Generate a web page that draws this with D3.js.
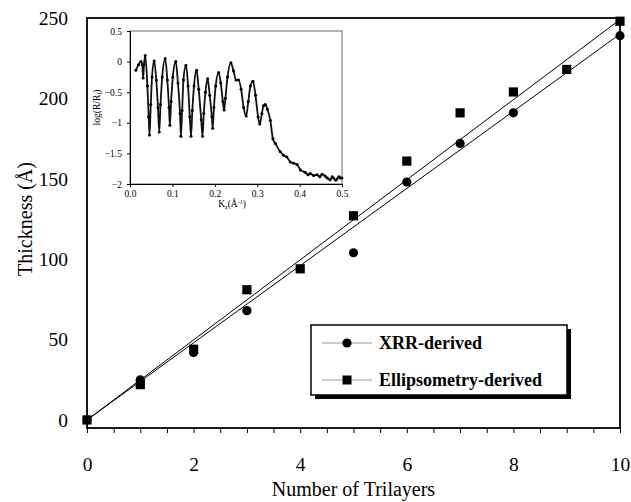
<!DOCTYPE html>
<html>
<head>
<meta charset="utf-8">
<script src="https://cdn.jsdelivr.net/npm/d3@7"></script>
<style>
  body { margin: 0; background: #fff; }
  svg { display: block; font-family: "Liberation Serif", "Times New Roman", serif; }
</style>
</head>
<body>
<svg id="chart" width="631" height="502"></svg>
<script>
// main chart data: thickness vs number of trilayers
const xrrLayers = [0, 1, 2, 3, 5, 6, 7, 8, 10];
const xrrThickness = [0, 25, 42, 68, 104, 148, 172, 191, 239];
const ellLayers = [0, 1, 2, 3, 4, 5, 6, 7, 8, 9, 10];
const ellThickness = [0, 22, 44, 81, 94, 127, 161, 191, 204, 218, 248];

// fitted lines (start, end)
const xrrFit = [[0, 0], [10, 240]];
const ellFit = [[0, 0], [10, 249]];

const xTickLabels = [0, 2, 4, 6, 8, 10];
const yTickLabels = [0, 50, 100, 150, 200, 250];

// inset: reflectivity curve, log(R/Rf) vs Kz
const insetKz = [0.014, 0.020, 0.026, 0.029, 0.031, 0.033, 0.036, 0.041, 0.044, 0.046, 0.049, 0.052,
  0.057, 0.062, 0.066, 0.069, 0.072, 0.076, 0.083, 0.088, 0.092, 0.094, 0.097, 0.101,
  0.108, 0.113, 0.118, 0.120, 0.123, 0.126, 0.132, 0.137, 0.141, 0.144, 0.147, 0.151,
  0.157, 0.162, 0.168, 0.171, 0.174, 0.178, 0.183, 0.188, 0.193, 0.195, 0.198, 0.202,
  0.209, 0.214, 0.219, 0.222, 0.225, 0.230, 0.238, 0.244, 0.250, 0.256, 0.262, 0.268,
  0.274, 0.279, 0.284, 0.290, 0.296, 0.302, 0.306, 0.311, 0.315, 0.319, 0.324, 0.331,
  0.337, 0.343, 0.354, 0.362, 0.370, 0.378, 0.386, 0.394, 0.402, 0.413, 0.420, 0.425,
  0.433, 0.441, 0.448, 0.453, 0.460, 0.465, 0.472, 0.477, 0.480, 0.485, 0.488, 0.493,
  0.496, 0.500];
const insetLogR = [-0.14, -0.05, 0.0, -0.05, -0.27, -0.05, 0.1, -0.4, -0.9, -1.2, -0.7, -0.25,
  0.01, -0.3, -0.75, -1.15, -0.7, -0.25, 0.05, -0.3, -0.75, -1.04, -0.65, -0.25,
  0.0, -0.35, -0.85, -1.22, -0.8, -0.3, -0.06, -0.4, -0.9, -1.22, -0.8, -0.4,
  -0.14, -0.45, -0.95, -1.22, -0.85, -0.5, -0.28, -0.55, -0.9, -1.09, -0.75, -0.4,
  -0.18, -0.35, -0.65, -0.79, -0.6, -0.25, -0.02, -0.15, -0.3, -0.3, -0.45, -0.75,
  -0.89, -0.65, -0.4, -0.32, -0.55, -0.9, -1.02, -0.85, -0.72, -0.7, -0.78, -0.96,
  -1.26, -1.34, -1.47, -1.53, -1.56, -1.64, -1.66, -1.68, -1.77, -1.81, -1.85, -1.83,
  -1.86, -1.85, -1.88, -1.84, -1.87, -1.9, -1.93, -1.88, -1.9, -1.94, -1.92, -1.88,
  -1.9, -1.9];
const insetXTicks = [0, 0.1, 0.2, 0.3, 0.4, 0.5];
const insetYTicks = [0.5, 0, -0.5, -1, -1.5, -2];

const svg = d3.select('#chart');

// ---- main plot ----
const x = d3.scaleLinear().domain([0, 10]).range([87, 620]);
const y = d3.scaleLinear().domain([-5, 250]).range([428, 18]);

svg.append('defs').append('clipPath').attr('id', 'plotclip')
  .append('rect')
    .attr('x', x(0)).attr('y', y(250))
    .attr('width', x(10) - x(0)).attr('height', y(-5) - y(250));

// minor ticks below the x axis every 0.5
svg.append('g')
  .attr('transform', `translate(0,${y(-5)})`)
  .call(d3.axisBottom(x).tickValues(d3.range(0, 10.01, 0.5)).tickSize(5).tickFormat(''))
  .call(g => g.select('.domain').remove())
  .call(g => g.selectAll('line').attr('stroke', '#000').attr('stroke-width', 1));

// x tick labels
svg.append('g')
  .attr('transform', `translate(0,${y(-5)})`)
  .call(d3.axisBottom(x).tickValues(xTickLabels).tickSize(0).tickPadding(29).tickFormat(d3.format('d')))
  .call(g => g.select('.domain').remove())
  .call(g => g.selectAll('text').attr('font-size', 19.5).attr('font-family', 'Liberation Serif').attr('fill', '#000'));

// y tick labels (no tick marks)
svg.append('g')
  .attr('transform', `translate(${x(0)},0)`)
  .call(d3.axisLeft(y).tickValues(yTickLabels).tickSize(0).tickPadding(19).tickFormat(d3.format('d')))
  .call(g => g.select('.domain').remove())
  .call(g => g.selectAll('text').attr('font-size', 19.5).attr('font-family', 'Liberation Serif').attr('fill', '#000'));

// axis titles
svg.append('text')
  .attr('x', (x(0) + x(10)) / 2).attr('y', 496)
  .attr('text-anchor', 'middle').attr('font-size', 20)
  .text('Number of Trilayers');

svg.append('text')
  .attr('transform', `translate(32,${y(125)}) rotate(-90)`)
  .attr('text-anchor', 'middle').attr('font-size', 20)
  .text('Thickness (Å)');

// fit lines
const line = d3.line().x(d => x(d[0])).y(d => y(d[1]));
const fits = svg.append('g').attr('clip-path', 'url(#plotclip)');
[xrrFit, ellFit].forEach(f => {
  fits.append('path').datum(f)
    .attr('d', line).attr('fill', 'none')
    .attr('stroke', '#000').attr('stroke-width', 1);
});

// data markers
const xrr = xrrLayers.map((n, i) => ({ n, t: xrrThickness[i] }));
const ell = ellLayers.map((n, i) => ({ n, t: ellThickness[i] }));

svg.append('g').selectAll('circle')
  .data(xrr).join('circle')
    .attr('cx', d => x(d.n)).attr('cy', d => y(d.t))
    .attr('r', 4.6).attr('fill', '#000');

svg.append('g').selectAll('rect')
  .data(ell).join('rect')
    .attr('x', d => x(d.n) - 4.6).attr('y', d => y(d.t) - 4.6)
    .attr('width', 9.2).attr('height', 9.2).attr('fill', '#000');

// frame
svg.append('rect')
  .attr('x', x(0)).attr('y', y(250))
  .attr('width', x(10) - x(0)).attr('height', y(-5) - y(250))
  .attr('fill', 'none').attr('stroke', '#000').attr('stroke-width', 1.8);

// ---- legend ----
const legend = svg.append('g').attr('transform', 'translate(311,325)');
legend.append('rect')
  .attr('x', 4).attr('y', 4).attr('width', 256).attr('height', 70)
  .attr('fill', '#000');
legend.append('rect')
  .attr('width', 256).attr('height', 70)
  .attr('fill', '#fff').attr('stroke', '#000').attr('stroke-width', 1.5);

const entries = [
  { label: 'XRR-derived', shape: 'circle' },
  { label: 'Ellipsometry-derived', shape: 'square' }
];
entries.forEach((e, i) => {
  const row = legend.append('g').attr('transform', `translate(0,${18 + i * 37})`);
  row.append('line')
    .attr('x1', 11).attr('x2', 61)
    .attr('stroke', '#999').attr('stroke-width', 1);
  if (e.shape === 'circle') {
    row.append('circle').attr('cx', 36).attr('r', 4.6).attr('fill', '#000');
  } else {
    row.append('rect').attr('x', 31.5).attr('y', -4.5)
      .attr('width', 9).attr('height', 9).attr('fill', '#000');
  }
  row.append('text')
    .attr('x', 68).attr('dy', '0.35em')
    .attr('font-size', 18).attr('font-weight', 'bold')
    .text(e.label);
});

// ---- inset ----
const ix = d3.scaleLinear().domain([0, 0.5]).range([130, 342]);
const iy = d3.scaleLinear().domain([-2, 0.5]).range([184, 31]);

const inset = svg.append('g');
inset.append('rect')
  .attr('x', ix(0)).attr('y', iy(0.5))
  .attr('width', ix(0.5) - ix(0)).attr('height', iy(-2) - iy(0.5))
  .attr('fill', '#fff').attr('stroke', '#666').attr('stroke-width', 1);

inset.append('g')
  .attr('transform', `translate(0,${iy(-2)})`)
  .call(d3.axisBottom(ix).tickValues(insetXTicks).tickSize(3).tickPadding(3).tickFormat(d3.format('.1f')))
  .call(g => g.select('.domain').attr('stroke', '#000'))
  .call(g => g.selectAll('text').attr('font-size', 9.5).attr('font-family', 'Liberation Serif').attr('fill', '#000'));

inset.append('g')
  .attr('transform', `translate(${ix(0)},0)`)
  .call(d3.axisLeft(iy).tickValues(insetYTicks).tickSize(3).tickPadding(5).tickFormat(d => d3.format('')(d)))
  .call(g => g.select('.domain').attr('stroke', '#000'))
  .call(g => g.selectAll('text').attr('font-size', 9.5).attr('font-family', 'Liberation Serif').attr('fill', '#000'));

// inset titles
const kzTitle = inset.append('text')
  .attr('x', 232).attr('y', 207)
  .attr('text-anchor', 'middle').attr('font-size', 9.5);
kzTitle.append('tspan').text('K');
kzTitle.append('tspan').attr('font-size', 6).attr('dy', 2).text('z');
kzTitle.append('tspan').attr('dy', -2).text('(Å');
kzTitle.append('tspan').attr('font-size', 6).attr('dy', -3).text('-1');
kzTitle.append('tspan').attr('dy', 3).text(')');

const rTitle = inset.append('text')
  .attr('transform', `translate(100,${iy(-0.75)}) rotate(-90)`)
  .attr('text-anchor', 'middle').attr('font-size', 9.5);
rTitle.append('tspan').text('log(R/R');
rTitle.append('tspan').attr('font-size', 6).attr('dy', 2).text('f');
rTitle.append('tspan').attr('dy', -2).text(')');

const refl = insetKz.map((k, i) => [k, insetLogR[i]]);
inset.append('path').datum(refl)
  .attr('d', d3.line().x(d => ix(d[0])).y(d => iy(d[1])).curve(d3.curveMonotoneX))
  .attr('fill', 'none').attr('stroke', '#111').attr('stroke-width', 1.8);

inset.append('g').selectAll('circle')
  .data(refl).join('circle')
    .attr('cx', d => ix(d[0])).attr('cy', d => iy(d[1]))
    .attr('r', 1.5).attr('fill', '#000');
</script>
</body>
</html>
